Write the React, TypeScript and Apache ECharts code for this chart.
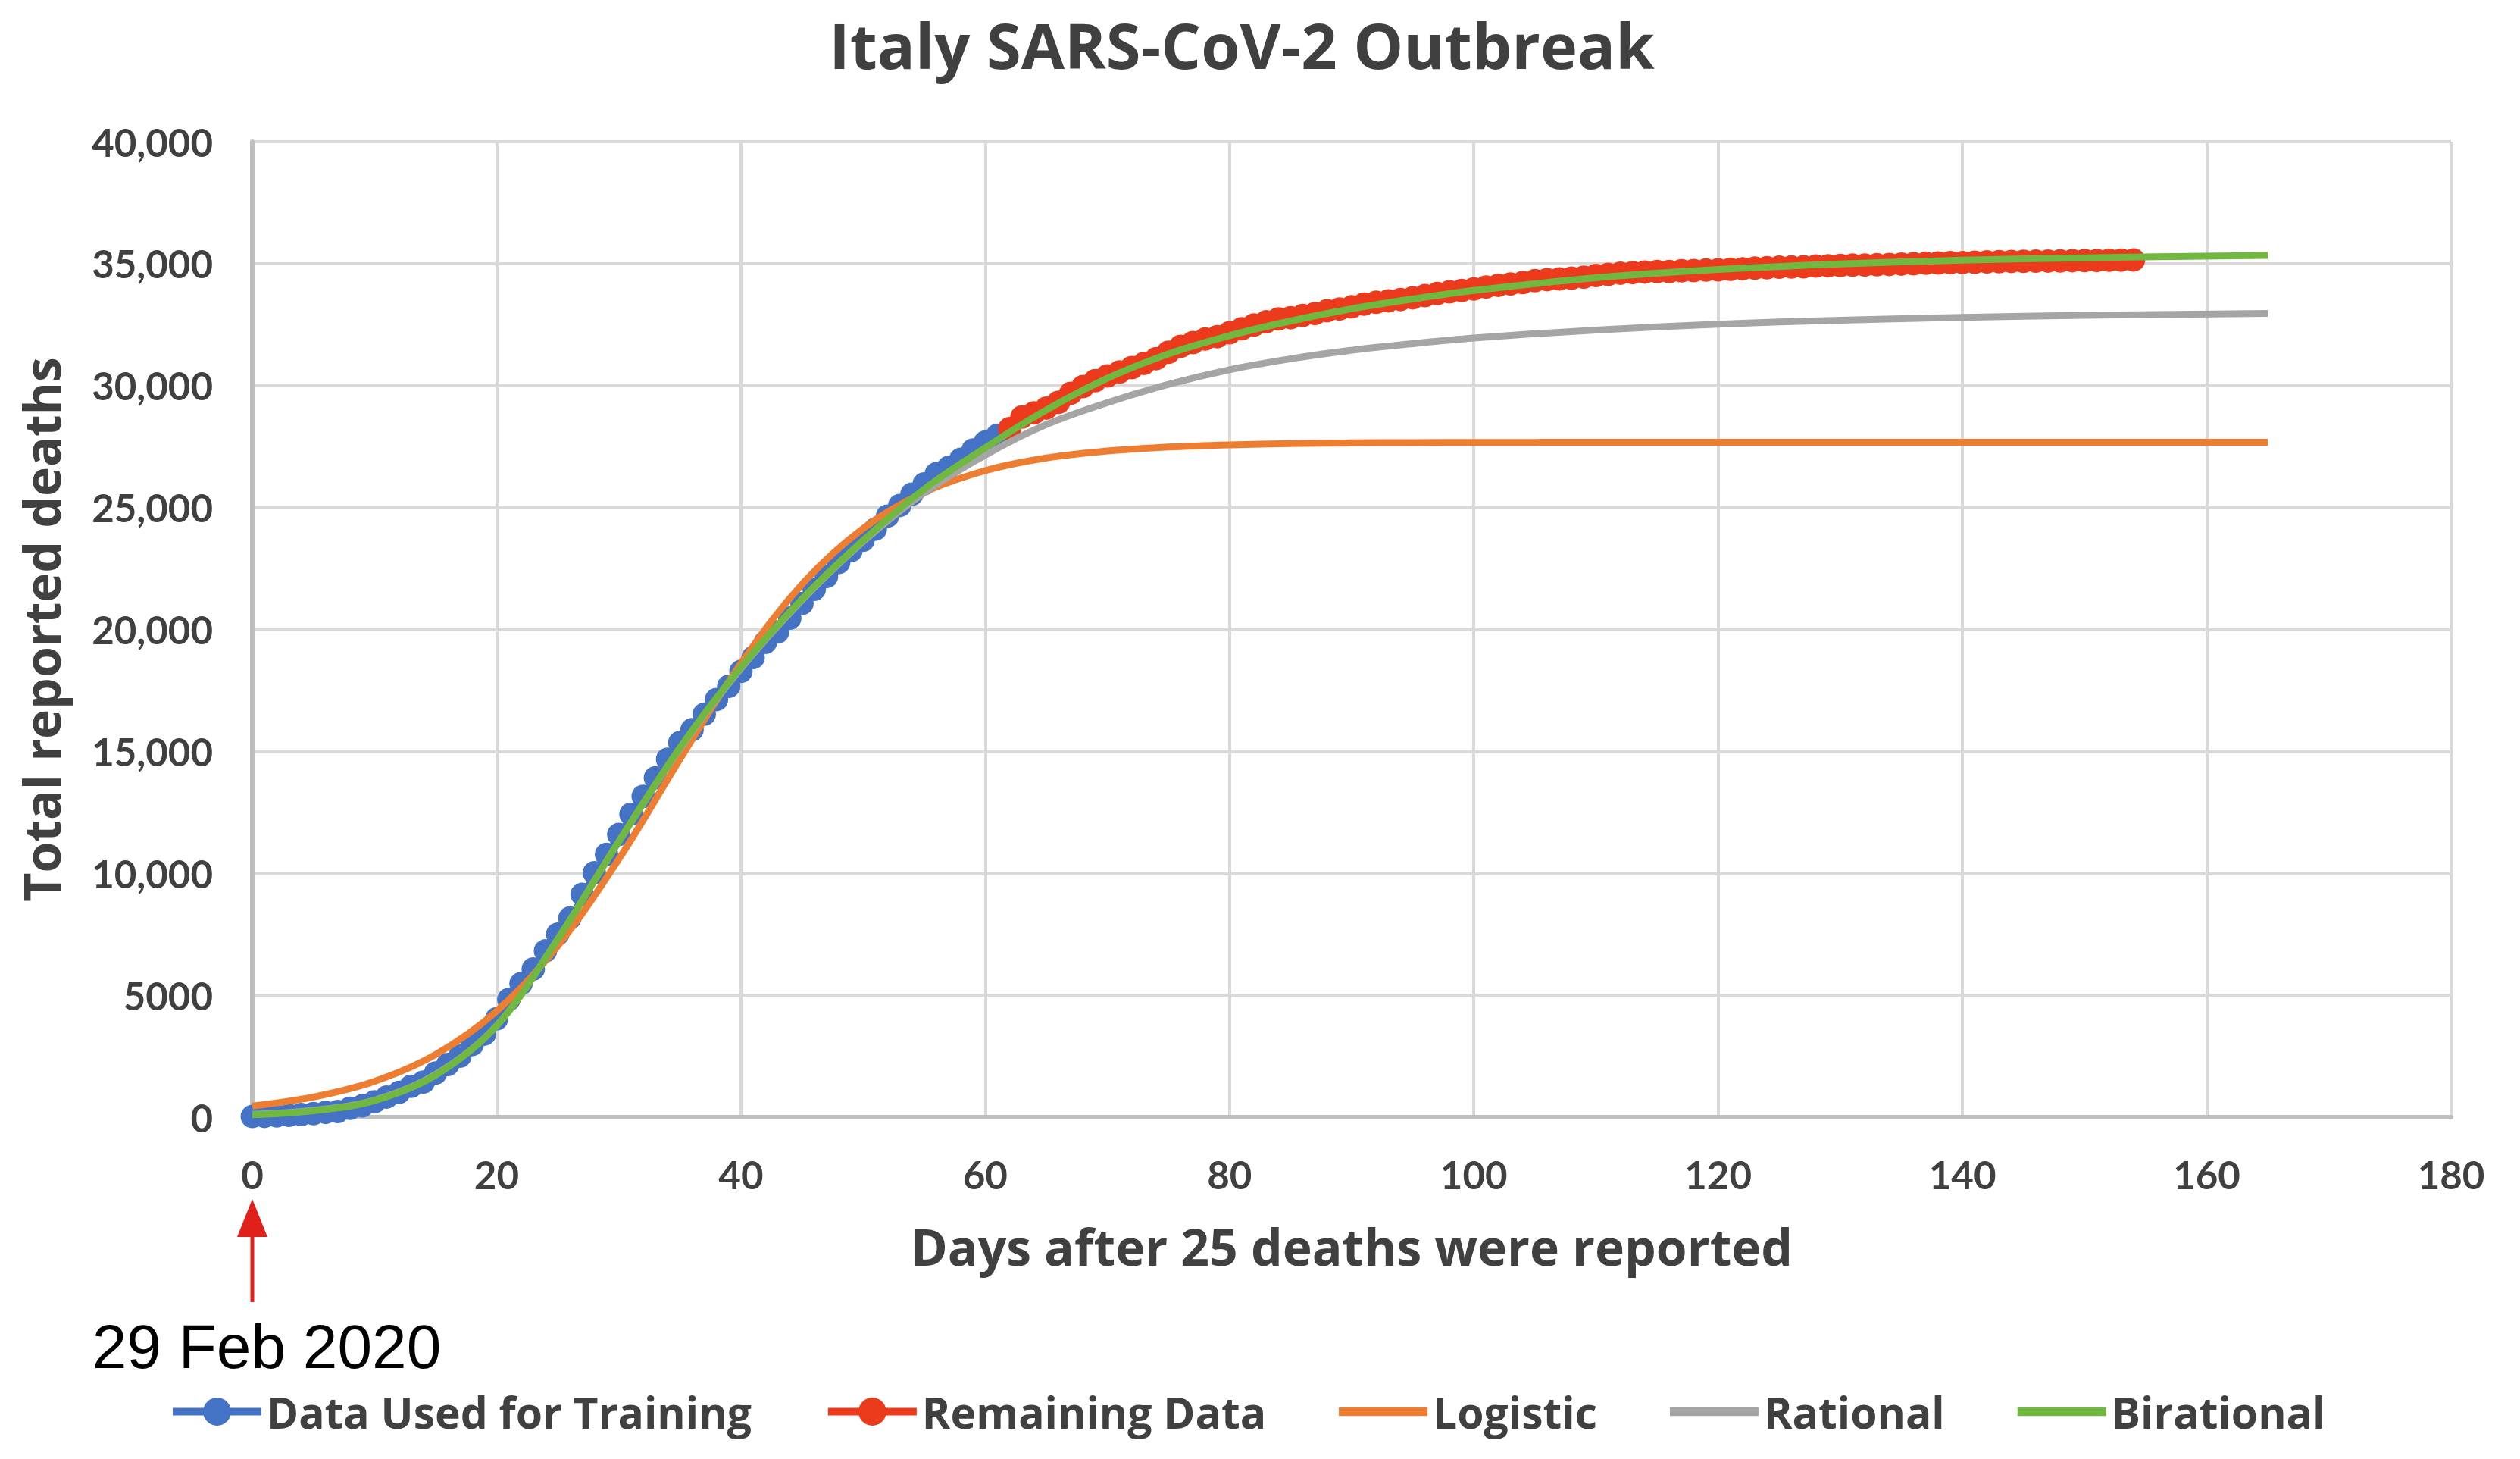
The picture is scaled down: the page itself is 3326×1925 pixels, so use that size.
import React, { useEffect, useRef } from "react";
import * as echarts from "echarts";

// ---------- data ----------
const TITLE = "Italy SARS-CoV-2 Outbreak";
const X_NAME = "Days after 25 deaths were reported";
const Y_NAME = "Total reported deaths";
const START_NOTE = "29 Feb 2020";

const yTickLabels = ["0", "5000", "10,000", "15,000", "20,000", "25,000", "30,000", "35,000", "40,000"];
const xTickLabels = ["0", "20", "40", "60", "80", "100", "120", "140", "160", "180"];

// Data used for training: day 0 .. 61
const TRAIN_START_DAY = 0;
const trainingDeaths = [
  29, 34, 52, 79, 107, 148, 197, 233, 366, 463,
  631, 827, 1016, 1266, 1441, 1809, 2158, 2503, 2978, 3405,
  4032, 4825, 5476, 6077, 6820, 7503, 8165, 9134, 10023, 10779,
  11591, 12428, 13155, 13915, 14681, 15362, 15887, 16523, 17127, 17669,
  18279, 18849, 19468, 19899, 20465, 21067, 21645, 22170, 22745, 23227,
  23660, 24114, 24648, 25085, 25549, 25969, 26384, 26644, 26977, 27359,
  27682, 27967,
];

// Remaining data: day 62 .. 154
const REMAIN_START_DAY = 62;
const remainingDeaths = [
  28236, 28710, 28884, 29079, 29315, 29684, 29958, 30201, 30395, 30560,
  30739, 30911, 31106, 31368, 31610, 31763, 31908, 32007, 32169, 32330,
  32486, 32616, 32735, 32785, 32877, 32955, 33072, 33142, 33229, 33340,
  33415, 33475, 33530, 33601, 33689, 33774, 33846, 33899, 33964, 34043,
  34114, 34167, 34223, 34301, 34345, 34371, 34405, 34448, 34514, 34561,
  34610, 34634, 34657, 34675, 34678, 34708, 34716, 34738, 34744, 34767,
  34788, 34818, 34833, 34854, 34861, 34869, 34899, 34914, 34926, 34938,
  34945, 34954, 34967, 34984, 34997, 35017, 35028, 35042, 35045, 35058,
  35073, 35082, 35092, 35097, 35102, 35107, 35112, 35123, 35129, 35132,
  35141, 35146, 35154,
];

// Fitted curves, read at these days
const fitDays = [0, 5, 10, 15, 20, 25, 30, 35, 40, 45, 50, 55, 60, 65, 70, 75, 80, 85, 90, 95, 100, 110, 120, 130, 140, 150, 165];
const logisticFit = [460, 830, 1470, 2570, 4350, 7020, 10580, 14670, 18610, 21850, 24140, 25620, 26510, 27030, 27320, 27480, 27570, 27620, 27650, 27665, 27670, 27675, 27680, 27680, 27680, 27680, 27680];
const rationalFit = [120, 280, 700, 1750, 3750, 7300, 11300, 15100, 18400, 21200, 23600, 25600, 27150, 28400, 29300, 30050, 30650, 31100, 31450, 31720, 31950, 32280, 32520, 32680, 32800, 32880, 32960];
const birationalFit = [100, 260, 680, 1720, 3750, 7300, 11300, 15150, 18450, 21250, 23650, 25750, 27450, 29000, 30300, 31300, 32050, 32650, 33150, 33550, 33900, 34420, 34760, 34990, 35140, 35240, 35340];

const seriesNames = ["Data Used for Training", "Remaining Data", "Logistic", "Rational", "Birational"];
const seriesColors = ["#4472C4", "#EC3A1C", "#ED7D31", "#A5A5A5", "#70B83F"];

// ---------- layout ----------
const W = 3326;
const H = 1925;
const GRID = { left: 333, right: 91, top: 187, bottom: 451 };
const TICK_FONT = "Lato";
const TEXT_FONT = "Open Sans";
const TEXT_COLOR = "#404040";

export default function App() {
  const ref = useRef<HTMLDivElement>(null);

  useEffect(() => {
    if (!ref.current) return;
    const chart = echarts.init(ref.current, null, { renderer: "svg" });

    const trainPts = trainingDeaths.map((v, i) => [TRAIN_START_DAY + i, v]);
    const remainPts = remainingDeaths.map((v, i) => [REMAIN_START_DAY + i, v]);
    const fitPts = (arr: number[]) => arr.map((v, i) => [fitDays[i], v]);

    const axisX = GRID.left; // day 0 position
    const plotBottom = H - GRID.bottom;

    const lineIcon = "path://M0 0H100V10H0Z";

    const fitSeries = (idx: number, arr: number[]) => ({
      name: seriesNames[idx],
      type: "line",
      data: fitPts(arr),
      smooth: 0.35,
      symbol: "none",
      itemStyle: { color: seriesColors[idx] },
      lineStyle: { color: seriesColors[idx], width: 9 },
      emphasis: { disabled: true },
      z: 2 + idx,
    });

    const option: any = {
      animation: false,
      backgroundColor: "#ffffff",
      title: {
        text: TITLE,
        left: 1639,
        textAlign: "center",
        top: 17,
        padding: 0,
        textStyle: { fontFamily: TEXT_FONT, fontSize: 83, fontWeight: "bold", color: TEXT_COLOR },
      },
      grid: { left: GRID.left, right: GRID.right, top: GRID.top, bottom: GRID.bottom, containLabel: false },
      xAxis: {
        type: "value",
        min: 0,
        max: 180,
        interval: 20,
        name: X_NAME,
        nameLocation: "middle",
        nameGap: 137,
        nameTextStyle: { fontFamily: TEXT_FONT, fontSize: 66, fontWeight: "bold", color: TEXT_COLOR },
        axisLine: { show: true, onZero: false, lineStyle: { color: "#BFBFBF", width: 6 } },
        axisTick: { show: false },
        axisLabel: {
          margin: 50,
          fontFamily: TICK_FONT,
          fontSize: 51,
          fontWeight: "bold",
          color: TEXT_COLOR,
          formatter: (v: number) => xTickLabels[Math.round(v / 20)] ?? String(v),
        },
        splitLine: { show: true, lineStyle: { color: "#D9D9D9", width: 4 } },
      },
      yAxis: {
        type: "value",
        min: 0,
        max: 40000,
        interval: 5000,
        name: Y_NAME,
        nameLocation: "middle",
        nameGap: 246,
        nameTextStyle: { fontFamily: TEXT_FONT, fontSize: 66, fontWeight: "bold", color: TEXT_COLOR },
        axisLine: { show: true, lineStyle: { color: "#BFBFBF", width: 6 } },
        axisTick: { show: false },
        axisLabel: {
          margin: 52,
          fontFamily: TICK_FONT,
          fontSize: 51,
          fontWeight: "bold",
          color: TEXT_COLOR,
          formatter: (v: number) => yTickLabels[Math.round(v / 5000)] ?? String(v),
        },
        splitLine: { show: true, lineStyle: { color: "#D9D9D9", width: 4 } },
      },
      legend: {
        left: 223,
        top: 1834,
        itemWidth: 117,
        itemHeight: 46,
        itemGap: 96,
        padding: 0,
        textStyle: { fontFamily: TEXT_FONT, fontSize: 57, fontWeight: "bold", color: TEXT_COLOR, padding: [0, 0, 0, 2] },
        lineStyle: { width: 10 },
        data: [
          { name: seriesNames[0] },
          { name: seriesNames[1] },
          { name: seriesNames[2], icon: lineIcon },
          { name: seriesNames[3], icon: lineIcon },
          { name: seriesNames[4], icon: lineIcon },
        ],
      },
      series: [
        {
          name: seriesNames[0],
          type: "line",
          data: trainPts,
          symbol: "circle",
          symbolSize: 31,
          showSymbol: true,
          itemStyle: { color: seriesColors[0] },
          lineStyle: { color: seriesColors[0], width: 6 },
          emphasis: { disabled: true },
          clip: false,
          z: 2,
        },
        {
          name: seriesNames[1],
          type: "line",
          data: remainPts,
          symbol: "circle",
          symbolSize: 31,
          showSymbol: true,
          itemStyle: { color: seriesColors[1] },
          lineStyle: { color: seriesColors[1], width: 6 },
          emphasis: { disabled: true },
          z: 3,
        },
        fitSeries(2, logisticFit),
        fitSeries(3, rationalFit),
        fitSeries(4, birationalFit),
      ],
      graphic: [
        {
          type: "line",
          shape: { x1: axisX, y1: 1718, x2: axisX, y2: 1625 },
          style: { stroke: "#E0201B", lineWidth: 5 },
          silent: true,
        },
        {
          type: "polygon",
          shape: { points: [[axisX, plotBottom + 108], [axisX - 20, plotBottom + 158], [axisX + 20, plotBottom + 158]] },
          style: { fill: "#E0201B" },
          silent: true,
        },
        {
          type: "text",
          x: 352,
          y: 1776,
          style: {
            text: START_NOTE,
            fontFamily: "Liberation Sans",
            fontSize: 82,
            fill: "#000000",
            textAlign: "center",
            textVerticalAlign: "middle",
          },
          silent: true,
        },
      ],
    };

    chart.setOption(option);
    return () => chart.dispose();
  }, []);

  return (
    <div
      ref={ref}
      style={{ position: "absolute", left: 0, top: 0, width: W, height: H }}
    />
  );
}
